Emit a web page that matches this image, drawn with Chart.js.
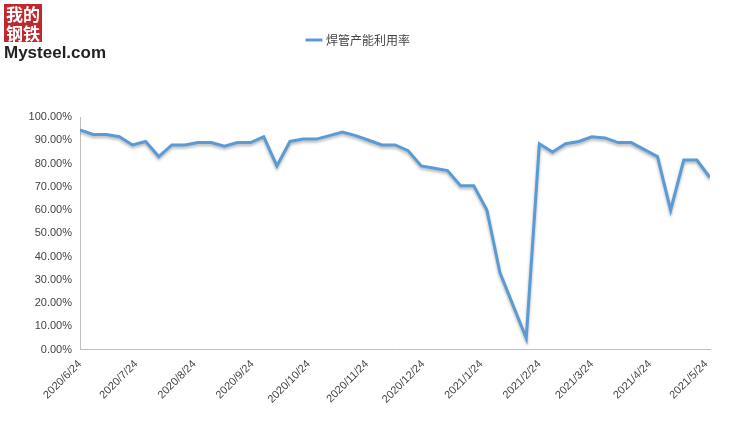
<!DOCTYPE html>
<html>
<head>
<meta charset="utf-8">
<script src="https://cdn.jsdelivr.net/npm/chart.js@4/dist/chart.umd.min.js"></script>
<style>
  body { margin: 0; background: #fff; }
  #wrap { position: relative; width: 742px; height: 437px; }
  #logo { position: absolute; left: 4px; top: 4px; font-family: "Noto Sans CJK SC", sans-serif; z-index: 2; }
  #logo .cn { color: #fff; background: #c0282d; font-weight: bold; font-size: 17px; line-height: 19px; padding: 0 2px; display: inline-block; }
  #logo .en { font-family: "Liberation Sans", sans-serif; font-weight: bold; font-size: 17px; color: #222; margin-top: -2px; }
</style>
</head>
<body>
<div id="wrap">
  <div id="logo"><span class="cn">我的<br>钢铁</span><div class="en">Mysteel.com</div></div>
  <canvas id="c" width="742" height="437"></canvas>
</div>
<script>
// weekly data starting 2020/6/24 (null = week with no report)
const seriesName = '焊管产能利用率';
const startDate = new Date(2020, 5, 24);
const utilization = [
  94.5, 92.5, 92.5, 91.5, 88, 89.5, 83, 88, 88, 89, 89, 87.5, 89, 89, 91.5, 79,
  89.5, 90.5, 90.5, 92, 93.5, 92, 90, 88, 88, 85.5, 79, 78, 77, 70.5, 70.5, 60,
  33, null, 5, 88.5, 85, 88.5, 89.5, 91.5, 91, 89, 89, 86, 83, 60, 81.5, 81.5, 74
];
const tickLabels = ['2020/6/24', '2020/7/24', '2020/8/24', '2020/9/24', '2020/10/24', '2020/11/24',
  '2020/12/24', '2021/1/24', '2021/2/24', '2021/3/24', '2021/4/24', '2021/5/24'];

function dayOffset(label) {
  const p = label.split('/').map(Number);
  return Math.round((new Date(p[0], p[1] - 1, p[2]) - startDate) / 86400000);
}
const tickDays = tickLabels.map(dayOffset);
const points = utilization.map((v, i) => ({ x: i * 7, y: v }));

const shadow = {
  id: 'shadow',
  beforeDatasetsDraw(chart) {
    chart.ctx.save();
    chart.ctx.shadowColor = 'rgba(0,0,0,0.3)';
    chart.ctx.shadowBlur = 3;
    chart.ctx.shadowOffsetY = 2;
  },
  afterDatasetsDraw(chart) { chart.ctx.restore(); }
};

// leave a gap between legend and plot
const legendGap = {
  id: 'legendGap',
  beforeInit(chart) {
    const fit = chart.legend.fit;
    chart.legend.fit = function() {
      fit.call(this);
      this.height += 61;
    };
  }
};

new Chart(document.getElementById('c'), {
  type: 'line',
  data: {
    datasets: [{
      label: seriesName,
      data: points,
      borderColor: '#5b9bd5',
      backgroundColor: '#5b9bd5',
      borderWidth: 3,
      pointRadius: 0,
      tension: 0,
      spanGaps: true
    }]
  },
  options: {
    responsive: false,
    animation: false,
    layout: { padding: { left: 8, right: 32, top: 24, bottom: 28 } },
    plugins: {
      legend: {
        labels: {
          usePointStyle: true, pointStyle: 'line', boxWidth: 30,
          color: '#444', font: { family: 'Noto Sans CJK SC', size: 12 }
        }
      },
      tooltip: { enabled: false }
    },
    scales: {
      x: {
        type: 'linear', min: 0, max: tickDays[tickDays.length - 1] + 2,
        afterBuildTicks(axis) { axis.ticks = tickDays.map(v => ({ value: v })); },
        grid: { display: false, drawTicks: true, tickLength: 5, color: '#bfbfbf' },
        border: { color: '#bfbfbf' },
        ticks: {
          autoSkip: false, maxRotation: 45, minRotation: 45,
          color: '#444', font: { family: 'Liberation Sans', size: 11 },
          callback: (v) => tickLabels[tickDays.indexOf(v)]
        }
      },
      y: {
        min: 0, max: 100,
        grid: { display: false, tickLength: 5, color: '#bfbfbf' },
        border: { color: '#bfbfbf' },
        afterFit(axis) { axis.width = 72; },
        ticks: {
          stepSize: 10, color: '#444', font: { family: 'Liberation Sans', size: 11 },
          callback: (v) => v.toFixed(2) + '%'
        }
      }
    }
  },
  plugins: [shadow, legendGap]
});
</script>
</body>
</html>
